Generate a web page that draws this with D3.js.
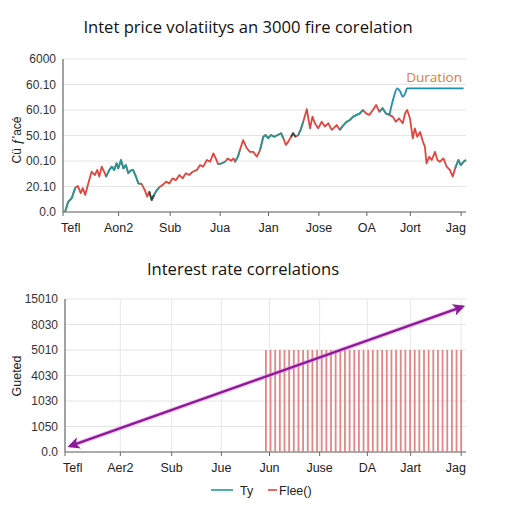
<!DOCTYPE html>
<html><head><meta charset="utf-8">
<script src="https://cdn.jsdelivr.net/npm/d3@7"></script>
<style>
html,body{margin:0;padding:0;background:#fff;}
svg{display:block;}
text{font-family:"Liberation Sans",Arial,sans-serif;}
</style></head>
<body>
<svg id="c" width="512" height="512"></svg>
<script>
// ---------- DATA ----------
const topTitle = "Intet price volatiitys an 3000 fire corelation";
const bottomTitle = "Interest rate correlations";
const topYLabel = "Cü ƒ'acé";
const bottomYLabel = "Gueted";
const tickPos = [0, 13.8, 26.6, 39, 51, 63.5, 75.4, 86.2, 98.8];
const topXLabels = ["Tefl","Aon2","Sub","Jua","Jan","Jose","OA","Jort","Jag"];
const bottomXLabels = ["Tefl","Aer2","Sub","Jue","Jun","Juse","DA","Jart","Jag"];
const topYTicks = [0,10,20,30,40,50,60];
const topYLabels = ["0.0","20.10","00.10","50.10","60.10","60.10","6000"];
const bottomYTicks = [0,1,2,3,4,5,6];
const bottomYLabels = ["0.0","1050","1030","4030","5010","8030","15010"];

const priceT = [0.5,1.3,2.2,3.0,3.7,4.4,4.9,5.5,6.3,7.1,7.9,8.5,9.0,9.6,10.2,10.7,11.5,12.1,12.7,13.3,13.7,14.4,15.0,15.6,16.2,16.8,17.4,18.1,18.7,19.5,20.3,20.9,21.4,22.0,22.6,23.3,23.9,24.7,25.6,26.4,27.2,28.0,28.9,29.7,30.5,31.3,32.2,33.2,34.0,34.8,35.7,36.5,37.3,37.9,38.5,39.4,40.2,40.9,41.7,42.3,42.7,43.4,43.9,44.7,45.6,46.4,47.2,48.1,48.9,49.7,50.3,50.9,51.6,52.4,53.3,54.1,54.7,55.3,55.9,56.6,57.1,57.7,58.4,59.1,59.6,60.5,61.3,61.9,62.5,63.3,64.2,65.0,65.8,66.7,67.1,67.9,68.7,69.6,70.4,71.2,72.0,72.9,73.7,74.4,75.2,76.0,76.9,77.7,78.5,79.3,80.1,81.0,81.8,82.6,83.4,84.3,84.9,85.4,86.1,86.8,87.3,87.9,88.6,89.3,89.8,90.2,90.9,91.5,92.3,92.9,93.5,94.4,95.2,96.0,96.7,97.3,98.1,98.7,99.4,100];
const priceV = [0,4,5.5,9.4,10.2,7.4,9.4,6.7,11.4,15.8,14.5,16.5,13.9,17.8,15.8,13.9,16.5,17.8,16.5,19.1,17.1,20.4,17.1,18.4,15.2,16.2,16.5,13.9,11.2,11,8.6,6,8,4.7,6.7,8.6,9.7,10.6,11.9,11.2,13.2,12.5,14.5,13.2,15.2,14.5,15.8,16.5,18.4,17.8,20.4,19.7,23,21,18.8,19.1,19.7,21,20.1,21,19.7,21.7,24.3,28.2,25,23.6,23.6,21.7,24.3,29.5,30.2,28.9,30.2,29.5,30.2,30.9,28.9,26.3,27.6,29.5,30.9,29.5,30.2,32.8,35.4,40.3,32.8,37.4,34.8,32.8,35.4,33.5,34.8,32.2,32.8,34.1,32.2,34.1,35.4,36.1,37.4,38.1,38.7,40,38.7,38.1,40,42,39.3,40.7,38.7,38.1,37.4,35.4,36.7,34.8,38.7,40,36.7,28.9,32.8,29.5,31.4,27.6,25.6,19.1,21.7,20.4,23.6,20.4,19.7,21,17.8,16.5,13.9,17.1,20.4,18.4,19.7,20.4];
const tealRanges = [[0,3.0],[10.7,19.5],[22.0,23.9],[38.5,40.2],[42.7,43.9],[48.9,54.7],[58.4,59.6],[68.7,74.4],[78.5,81.0],[97.3,100]];
const darkRanges = [[21.4,22.6],[56.6,57.7]];
const durationT = [81.0,82.1,82.9,83.7,84.3,84.9,85.4,99.4];
const durationV = [38.1,45.2,48.5,47.2,45.2,46.5,48.5,48.5];
const durationLabel = "Duration";

const trendT = [1.2, 99.2];
const trendV = [0.23, 5.7];
const barValues = [4,4,4,4,4,4,4,4,4,4,4,4,4,4,4,4,4,4,4,4,4,4,4,4,4,4,4,4,4,4,4,4,4,4,4,4,4,4,4,4,4,4,4];
const barSpanT = [50.1, 98.8];
const legendItems = ["Ty","Flee()"];

// ---------- STYLES ----------
const TEAL = "#1d9c98", RED = "#e0453d", DARK = "#2d4b4b", BLUE = "#1a8fae";
const svg = d3.select("#c");

function drawFrame(g, x, y, yTicks, yLabels, xLabels, vgrid) {
  g.selectAll(".hg").data(yTicks).join("line")
    .attr("x1", x.range()[0]).attr("x2", x.range()[1])
    .attr("y1", d => y(d)).attr("y2", d => y(d))
    .attr("stroke", "#e4e4e4").attr("stroke-width", 1);
  if (vgrid) {
    g.selectAll(".vg").data(tickPos.slice(1)).join("line")
      .attr("x1", d => x(d)).attr("x2", d => x(d))
      .attr("y1", y.range()[1]).attr("y2", y.range()[0])
      .attr("stroke", "#e8e8e8").attr("stroke-width", 1);
  }
  g.append("line").attr("x1", x.range()[0]).attr("x2", x.range()[0])
    .attr("y1", y.range()[1]).attr("y2", y.range()[0]).attr("stroke", "#666").attr("stroke-width", 1.2);
  g.append("line").attr("x1", x.range()[0]).attr("x2", x.range()[1])
    .attr("y1", y.range()[0]).attr("y2", y.range()[0]).attr("stroke", "#666").attr("stroke-width", 1.2);
  g.selectAll(".yl").data(yTicks).join("text")
    .attr("x", x.range()[0] - 7).attr("y", d => y(d)).attr("dy", "0.35em")
    .attr("text-anchor", "end").attr("font-size", 12).attr("fill", "#333")
    .text((d, i) => yLabels[i]);
  g.selectAll(".xt").data(tickPos).join("line")
    .attr("x1", d => x(d)).attr("x2", d => x(d))
    .attr("y1", y.range()[0]).attr("y2", y.range()[0] + 4)
    .attr("stroke", "#666").attr("stroke-width", 1);
  g.selectAll(".xl").data(tickPos).join("text")
    .attr("x", (d, i) => i === 0 ? x(d) - 2 : (i === tickPos.length - 1 ? x.range()[1] : x(d)))
    .attr("y", y.range()[0] + 20)
    .attr("text-anchor", (d, i) => i === 0 ? "start" : (i === tickPos.length - 1 ? "end" : "middle"))
    .attr("font-size", 12.5).attr("fill", "#222")
    .text((d, i) => xLabels[i]);
}

// ---------- TOP CHART ----------
const xT = d3.scaleLinear().domain([0, 100]).range([63, 466]);
const yT = d3.scaleLinear().domain([0, 60]).range([212, 59]);
const gT = svg.append("g");
svg.append("text").attr("x", 248).attr("y", 33).attr("text-anchor", "middle")
  .attr("font-size", 16.6).attr("fill", "#111").style("font-family", "'Open Sans','Noto Sans',sans-serif")
  .text(topTitle);
drawFrame(gT, xT, yT, topYTicks, topYLabels, topXLabels, false);
svg.append("text").attr("transform", "translate(21,140) rotate(-90)")
  .attr("text-anchor", "middle").attr("font-size", 12).attr("fill", "#222").text(topYLabel);

const pts = priceT.map((t, i) => ({t, v: priceV[i]}));
const line = d3.line().x(d => xT(d.t)).y(d => yT(d.v)).curve(d3.curveLinear);
gT.append("path").datum(pts).attr("d", line).attr("fill", "none")
  .attr("stroke", RED).attr("stroke-width", 1.8).attr("stroke-linejoin", "round");
function overlay(ranges, color) {
  ranges.forEach(r => {
    const seg = pts.filter(p => p.t >= r[0] - 0.01 && p.t <= r[1] + 0.01);
    gT.append("path").datum(seg).attr("d", line).attr("fill", "none")
      .attr("stroke", color).attr("stroke-width", 1.8).attr("stroke-linejoin", "round");
  });
}
overlay(tealRanges, TEAL);
overlay(darkRanges, DARK);
const dur = durationT.map((t, i) => ({t, v: durationV[i]}));
gT.append("path").datum(dur).attr("d", d3.line().x(d => xT(d.t)).y(d => yT(d.v)).curve(d3.curveMonotoneX))
  .attr("fill", "none").attr("stroke", BLUE).attr("stroke-width", 1.8);
svg.append("text").attr("x", xT(100) - 4).attr("y", 82).attr("text-anchor", "end")
  .attr("font-size", 13.5).attr("fill", "#e07a3a").style("font-family", "'Open Sans','Noto Sans',sans-serif")
  .text(durationLabel);

// ---------- BOTTOM CHART ----------
const xB = d3.scaleLinear().domain([0, 100]).range([65, 466]);
const yB = d3.scaleLinear().domain([0, 6]).range([452, 299]);
const gB = svg.append("g");
svg.append("text").attr("x", 243).attr("y", 275).attr("text-anchor", "middle")
  .attr("font-size", 16.6).attr("fill", "#111").style("font-family", "'Open Sans','Noto Sans',sans-serif")
  .text(bottomTitle);
drawFrame(gB, xB, yB, bottomYTicks, bottomYLabels, bottomXLabels, true);
svg.append("text").attr("transform", "translate(21,376) rotate(-90)")
  .attr("text-anchor", "middle").attr("font-size", 12.5).attr("fill", "#222").text(bottomYLabel);

const barX = d3.scaleLinear().domain([0, barValues.length - 1]).range([xB(barSpanT[0]), xB(barSpanT[1])]);
gB.selectAll(".bar").data(barValues).join("rect")
  .attr("x", (d, i) => barX(i) - 0.9).attr("width", 1.8)
  .attr("y", d => yB(d)).attr("height", d => yB(0) - yB(d))
  .attr("fill", "#df7a78").attr("opacity", 0.9);

const defs = svg.append("defs");
defs.append("marker").attr("id", "ah").attr("viewBox", "0 0 10 10")
  .attr("refX", 8).attr("refY", 5).attr("markerWidth", 5).attr("markerHeight", 5)
  .attr("orient", "auto-start-reverse").attr("markerUnits", "strokeWidth")
  .append("path").attr("d", "M0,0 L10,5 L0,10 L2.5,5 Z").attr("fill", "#8a1a96");
const tr = trendT.map((t, i) => ({t, v: trendV[i]}));
const tline = d3.line().x(d => xB(d.t)).y(d => yB(d.v));
gB.append("path").datum(tr).attr("d", tline).attr("stroke", "#f08ef0").attr("stroke-width", 4.5)
  .attr("stroke-opacity", 0.5).attr("fill", "none");
gB.append("path").datum(tr).attr("d", tline).attr("stroke", "#8a1a96").attr("stroke-width", 2.4)
  .attr("fill", "none").attr("marker-start", "url(#ah)").attr("marker-end", "url(#ah)");

// legend
const lg = svg.append("g");
lg.append("line").attr("x1", 211).attr("x2", 233).attr("y1", 490).attr("y2", 490).attr("stroke", TEAL).attr("stroke-width", 1.6);
lg.append("text").attr("x", 240).attr("y", 494.5).attr("font-size", 12.5).attr("fill", "#222").text(legendItems[0]);
lg.append("line").attr("x1", 268).attr("x2", 277).attr("y1", 490).attr("y2", 490).attr("stroke", RED).attr("stroke-width", 1.6);
lg.append("text").attr("x", 279).attr("y", 494.5).attr("font-size", 12.5).attr("fill", "#222").text(legendItems[1]);
</script>
</body></html>
